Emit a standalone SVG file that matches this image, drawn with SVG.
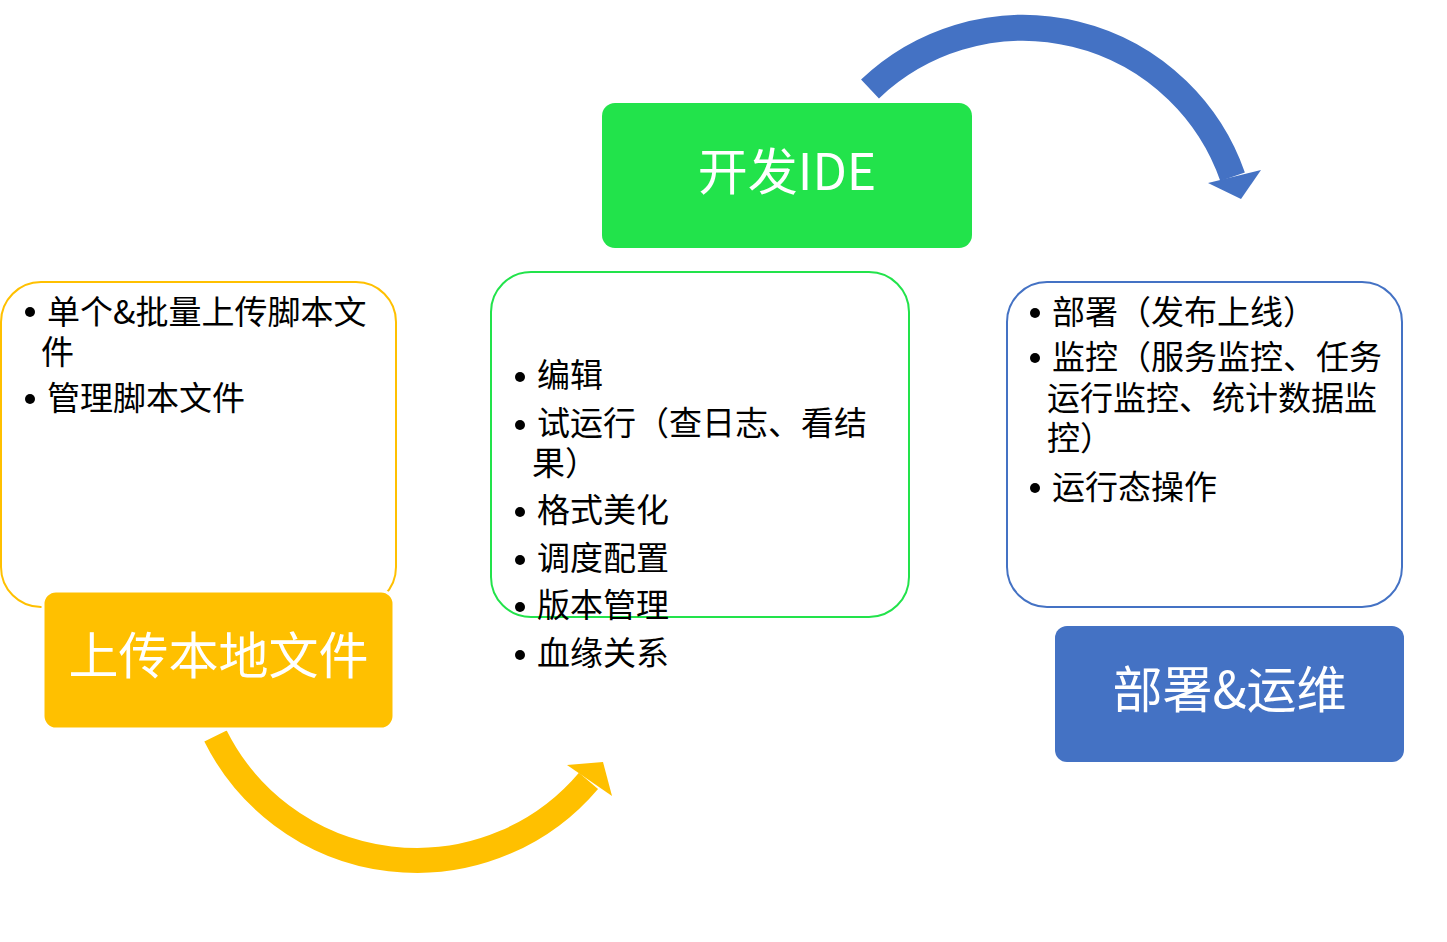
<svg xmlns="http://www.w3.org/2000/svg" width="1447" height="942" viewBox="0 0 1447 942">
<style>
.body{font-family:"Noto Sans CJK SC","Noto Sans",sans-serif;font-size:33px;fill:#000;text-spacing-trim:space-all}
.label{font-family:"Noto Sans CJK SC","Noto Sans",sans-serif;font-size:50px;fill:#fff;text-anchor:middle}
.dot{fill:#000}
</style>
<rect width="1447" height="942" fill="#fff"/>
<g id="connectors">
  <path d="M215.5,736 A225,225 0 0 0 588.5,780.8" fill="none" stroke="#FFC000" stroke-width="25"/>
  <polygon points="567,765 603,762 612,796" fill="#FFC000"/>
  <path d="M870,89 A222,222 0 0 1 1232.6,176.8" fill="none" stroke="#4472C4" stroke-width="26"/>
  <polygon points="1208,183 1261,170 1241,199" fill="#4472C4"/>
</g>
<g id="upload-detail">
  <rect x="1" y="282" width="395" height="325" rx="40" fill="#fff" stroke="#FFC000" stroke-width="2"/>
  <circle class="dot" cx="30" cy="312" r="5"/>
  <text class="body" x="47" y="323.5">单个&amp;批量上传脚本文<tspan x="41" dy="40">件</tspan></text>
  <circle class="dot" cx="30" cy="399" r="5"/>
  <text class="body" x="47" y="409.5">管理脚本文件</text>
</g>
<g id="upload">
  <rect x="43" y="591" width="351" height="138" rx="13" fill="#FFC000" stroke="#fff" stroke-width="3"/>
  <text class="label" x="218.5" y="674">上传本地文件</text>
</g>
<g id="ide-detail">
  <rect x="491" y="272" width="418" height="345" rx="40" fill="#fff" stroke="#22E34B" stroke-width="2"/>
  <circle class="dot" cx="520" cy="377" r="5"/>
  <text class="body" x="537" y="386.5">编辑</text>
  <circle class="dot" cx="520" cy="425" r="5"/>
  <text class="body" x="537" y="434.5">试运行（查日志、看结<tspan x="532" dy="40">果）</tspan></text>
  <circle class="dot" cx="520" cy="512" r="5"/>
  <text class="body" x="537" y="521.5">格式美化</text>
  <circle class="dot" cx="520" cy="560" r="5"/>
  <text class="body" x="537" y="569.5">调度配置</text>
  <circle class="dot" cx="520" cy="607" r="5"/>
  <text class="body" x="537" y="616.5">版本管理</text>
  <circle class="dot" cx="520" cy="655" r="5"/>
  <text class="body" x="537" y="664.5">血缘关系</text>
</g>
<g id="ide">
  <rect x="602" y="103" width="370" height="145" rx="13" fill="#22E34B"/>
  <text class="label" x="787" y="190">开发IDE</text>
</g>
<g id="ops-detail">
  <rect x="1007" y="282" width="395" height="325" rx="40" fill="#fff" stroke="#4472C4" stroke-width="2"/>
  <circle class="dot" cx="1035" cy="313" r="5"/>
  <text class="body" x="1052" y="323.5">部署（发布上线）</text>
  <circle class="dot" cx="1035" cy="358" r="5"/>
  <text class="body" x="1052" y="368.5">监控（服务监控、任务<tspan x="1047" dy="41">运行监控、统计数据监</tspan><tspan x="1047" dy="40">控）</tspan></text>
  <circle class="dot" cx="1035" cy="488" r="5"/>
  <text class="body" x="1052" y="498.5">运行态操作</text>
</g>
<g id="ops">
  <rect x="1055" y="626" width="349" height="136" rx="12" fill="#4472C4"/>
  <text class="label" x="1229.5" y="708">部署&amp;运维</text>
</g>
</svg>
